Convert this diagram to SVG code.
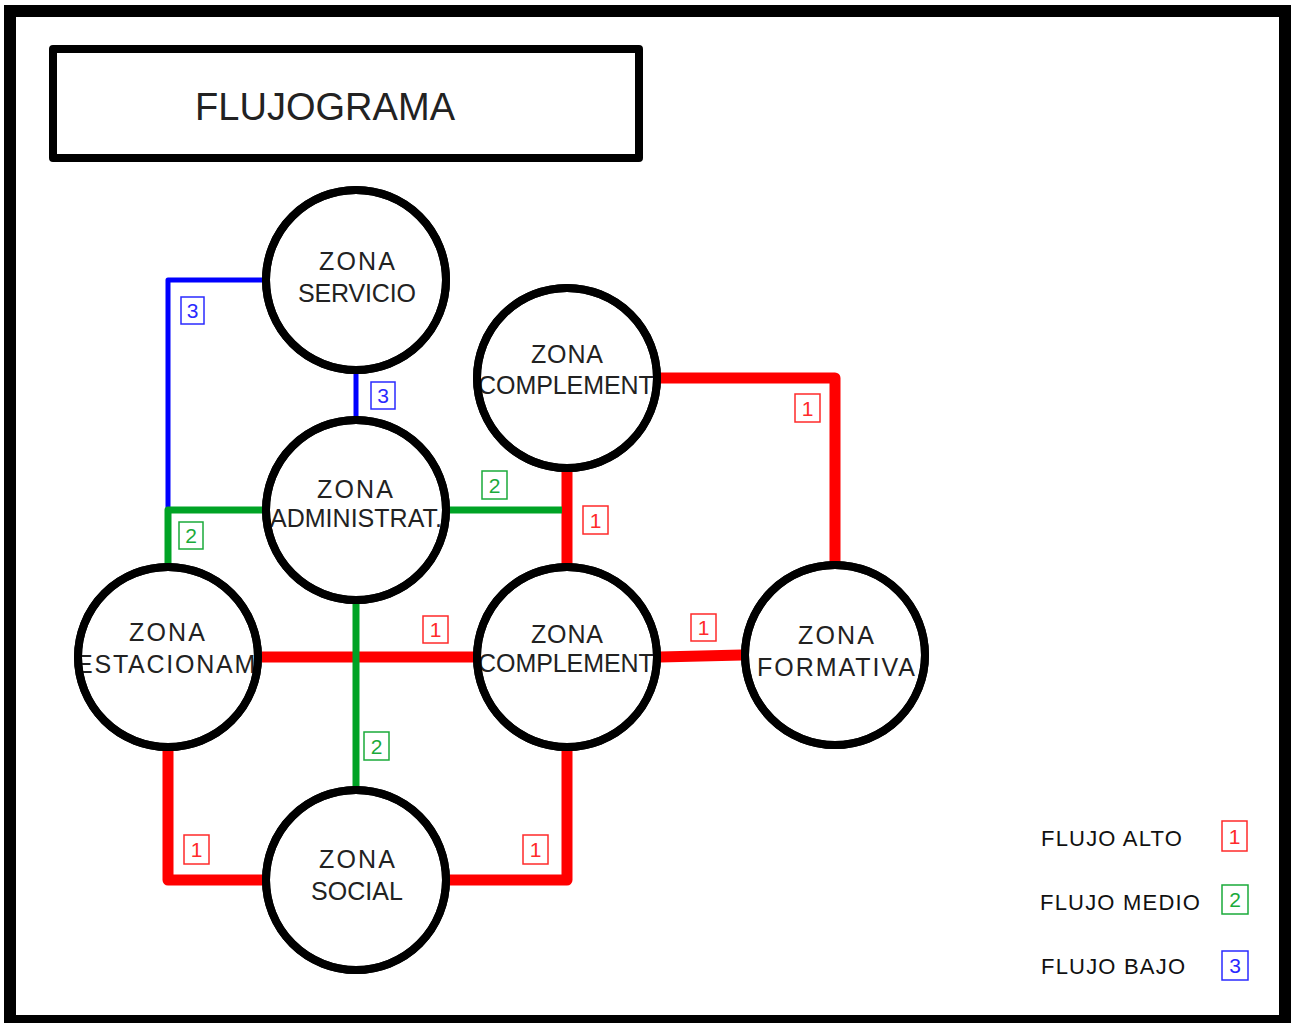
<svg xmlns="http://www.w3.org/2000/svg" width="1292" height="1023" viewBox="0 0 1292 1023">
<style>
.frame{fill:none;stroke:#000;stroke-width:12}
.title{fill:none;stroke:#000;stroke-width:8;stroke-linejoin:round}
.node{fill:#fff;stroke:#000;stroke-width:8}
.ring{fill:none;stroke:#000;stroke-width:8}
.nt{font-family:"Liberation Sans",Arial,sans-serif;font-size:25px;fill:#222;text-anchor:middle}
.red{fill:none;stroke:#ff0000;stroke-width:11;stroke-linejoin:round}
.green{fill:none;stroke:#00a325;stroke-width:7;stroke-linejoin:round}
.blue{fill:none;stroke:#0000ff;stroke-width:5;stroke-linejoin:round}
.lb{font-family:"Liberation Sans",Arial,sans-serif;font-size:21px;text-anchor:middle}
.lr rect{fill:#fff;stroke:#ff2a2a;stroke-width:1.5}
.lr text{fill:#ff2a2a}
.lg rect{fill:#fff;stroke:#1aaa3a;stroke-width:1.5}
.lg text{fill:#1aaa3a}
.lbb rect{fill:#fff;stroke:#2a2aff;stroke-width:1.5}
.lbb text{fill:#2a2aff}
.leg{font-family:"Liberation Sans",Arial,sans-serif;font-size:22px;fill:#111;letter-spacing:1.2px}
</style>
<defs>
<clipPath id="c1"><circle cx="356" cy="280" r="90"/></clipPath>
<clipPath id="c2"><circle cx="356" cy="510" r="90"/></clipPath>
<clipPath id="c3"><circle cx="567" cy="378" r="90"/></clipPath>
<clipPath id="c4"><circle cx="168" cy="657" r="90"/></clipPath>
<clipPath id="c5"><circle cx="567" cy="657" r="90"/></clipPath>
<clipPath id="c6"><circle cx="835" cy="655" r="90"/></clipPath>
<clipPath id="c7"><circle cx="356" cy="880" r="90"/></clipPath>
</defs>
<rect x="0" y="0" width="1292" height="1023" fill="#fff"/>
<rect class="frame" x="10" y="11" width="1275" height="1010"/>
<g id="title">
<rect class="title" x="53" y="49" width="586" height="109"/>
<text x="325" y="120" font-family="'Liberation Sans',Arial,sans-serif" font-size="38" fill="#222" text-anchor="middle" textLength="260" lengthAdjust="spacing">FLUJOGRAMA</text>
</g>
<g id="connectors">
<polyline class="blue" points="262,280 168,280 168,510"/>
<line class="blue" x1="356" y1="370" x2="356" y2="420"/>
<polyline class="red" points="660,378 835,378 835,563"/>
<line class="red" x1="567" y1="470" x2="567" y2="565"/>
<line class="red" x1="262" y1="657" x2="475" y2="657"/>
<line class="red" x1="660" y1="657" x2="742" y2="655"/>
<polyline class="red" points="168,748 168,880 263,880"/>
<polyline class="red" points="567,748 567,880 449,880"/>
<polyline class="green" points="263,510 168,510 168,566"/>
<line class="green" x1="449" y1="510" x2="562" y2="510"/>
<line class="green" x1="356" y1="600" x2="356" y2="788"/>
</g>
<g id="labels">
<g class="lbb"><rect x="181" y="297" width="23" height="27"/><text class="lb" x="192.5" y="318">3</text></g>
<g class="lbb"><rect x="371" y="382" width="24" height="27"/><text class="lb" x="383" y="403">3</text></g>
<g class="lg"><rect x="179" y="522" width="24" height="27"/><text class="lb" x="191" y="543">2</text></g>
<g class="lg"><rect x="482" y="471" width="25" height="28"/><text class="lb" x="494.5" y="493">2</text></g>
<g class="lg"><rect x="364" y="732" width="25" height="28"/><text class="lb" x="376.5" y="754">2</text></g>
<g class="lr"><rect x="795" y="394" width="25" height="28"/><text class="lb" x="807.5" y="416">1</text></g>
<g class="lr"><rect x="583" y="506" width="25" height="28"/><text class="lb" x="595.5" y="528">1</text></g>
<g class="lr"><rect x="423" y="616" width="25" height="27"/><text class="lb" x="435.5" y="637">1</text></g>
<g class="lr"><rect x="691" y="614" width="25" height="27"/><text class="lb" x="703.5" y="635">1</text></g>
<g class="lr"><rect x="184" y="835" width="25" height="29"/><text class="lb" x="196.5" y="857">1</text></g>
<g class="lr"><rect x="523" y="835" width="25" height="29"/><text class="lb" x="535.5" y="857">1</text></g>
</g>
<g id="zona-servicio">
<circle class="node" cx="356" cy="280" r="90"/>
<g clip-path="url(#c1)">
<text class="nt" x="357" y="270" textLength="76" lengthAdjust="spacing">ZONA</text>
<text class="nt" x="357" y="302" textLength="118" lengthAdjust="spacing">SERVICIO</text>
</g>
<circle class="ring" cx="356" cy="280" r="90"/>
</g>
<g id="zona-administrat">
<circle class="node" cx="356" cy="510" r="90"/>
<g clip-path="url(#c2)">
<text class="nt" x="355" y="498" textLength="76" lengthAdjust="spacing">ZONA</text>
<text class="nt" x="356" y="527" textLength="172" lengthAdjust="spacing">ADMINISTRAT.</text>
</g>
<circle class="ring" cx="356" cy="510" r="90"/>
</g>
<g id="zona-complement-1">
<circle class="node" cx="567" cy="378" r="90"/>
<g clip-path="url(#c3)">
<text class="nt" x="567" y="363" textLength="72" lengthAdjust="spacing">ZONA</text>
<text class="nt" x="568" y="394" textLength="180" lengthAdjust="spacing">COMPLEMENT.</text>
</g>
<circle class="ring" cx="567" cy="378" r="90"/>
</g>
<g id="zona-estacionam">
<circle class="node" cx="168" cy="657" r="90"/>
<g clip-path="url(#c4)">
<text class="nt" x="167" y="641" textLength="76" lengthAdjust="spacing">ZONA</text>
<text class="nt" x="170" y="673" textLength="188" lengthAdjust="spacing">ESTACIONAM.</text>
</g>
<circle class="ring" cx="168" cy="657" r="90"/>
</g>
<g id="zona-complement-2">
<circle class="node" cx="567" cy="657" r="90"/>
<g clip-path="url(#c5)">
<text class="nt" x="567" y="643" textLength="72" lengthAdjust="spacing">ZONA</text>
<text class="nt" x="568" y="672" textLength="180" lengthAdjust="spacing">COMPLEMENT.</text>
</g>
<circle class="ring" cx="567" cy="657" r="90"/>
</g>
<g id="zona-formativa">
<circle class="node" cx="835" cy="655" r="90"/>
<g clip-path="url(#c6)">
<text class="nt" x="836" y="644" textLength="76" lengthAdjust="spacing">ZONA</text>
<text class="nt" x="836" y="676" textLength="158" lengthAdjust="spacing">FORMATIVA</text>
</g>
<circle class="ring" cx="835" cy="655" r="90"/>
</g>
<g id="zona-social">
<circle class="node" cx="356" cy="880" r="90"/>
<g clip-path="url(#c7)">
<text class="nt" x="357" y="868" textLength="76" lengthAdjust="spacing">ZONA</text>
<text class="nt" x="357" y="900" textLength="92" lengthAdjust="spacing">SOCIAL</text>
</g>
<circle class="ring" cx="356" cy="880" r="90"/>
</g>
<g id="legend">
<text class="leg" x="1041" y="846">FLUJO ALTO</text>
<g class="lr"><rect x="1222" y="821" width="25" height="30"/><text class="lb" x="1234.5" y="844">1</text></g>
<text class="leg" x="1040" y="910">FLUJO MEDIO</text>
<g class="lg"><rect x="1222" y="885" width="26" height="29"/><text class="lb" x="1235" y="907">2</text></g>
<text class="leg" x="1041" y="974">FLUJO BAJO</text>
<g class="lbb"><rect x="1222" y="951" width="26" height="29"/><text class="lb" x="1235" y="973">3</text></g>
</g>
</svg>
